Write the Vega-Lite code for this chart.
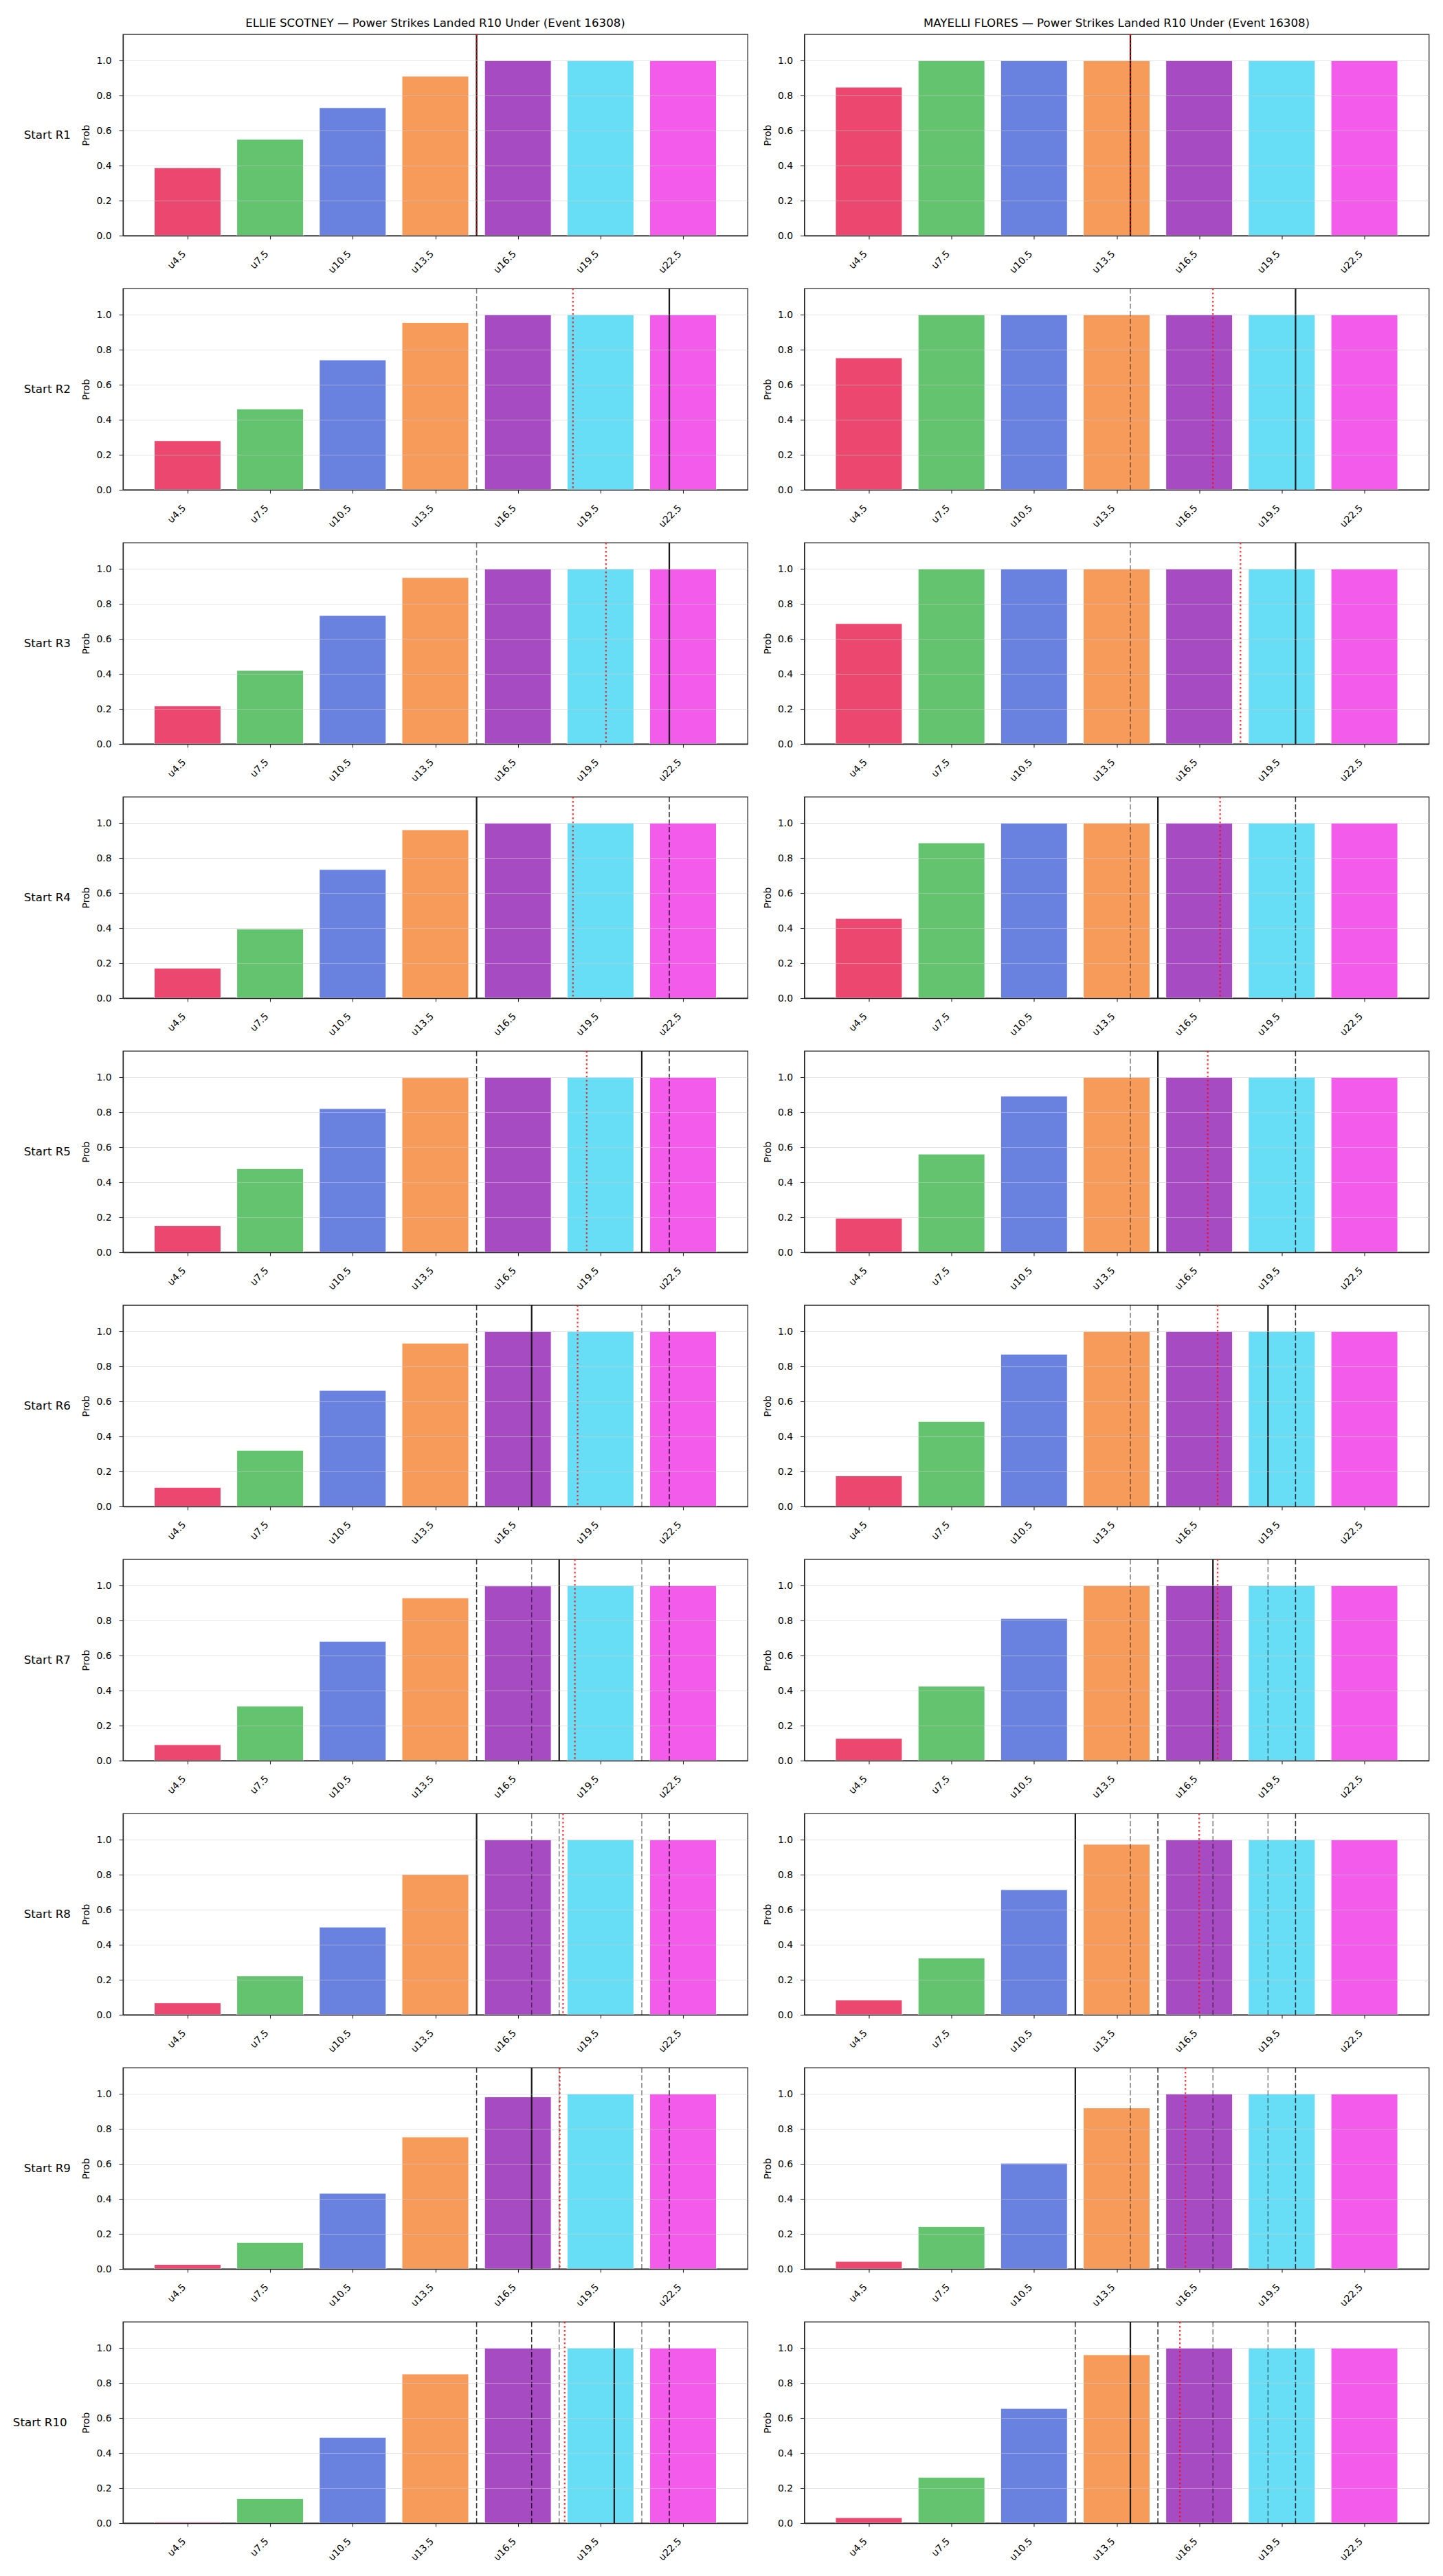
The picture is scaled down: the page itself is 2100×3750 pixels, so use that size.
{
  "$schema": "https://vega.github.io/schema/vega-lite/v6.json",
  "background": "white",
  "padding": {"left": 18, "top": 26, "right": 5, "bottom": 5},
  "data": {"values": [
    {"f":"ELLIE SCOTNEY","s":"Start R1","k":"bar","x":4.5,"p":0.388},
    {"f":"ELLIE SCOTNEY","s":"Start R1","k":"bar","x":7.5,"p":0.550},
    {"f":"ELLIE SCOTNEY","s":"Start R1","k":"bar","x":10.5,"p":0.731},
    {"f":"ELLIE SCOTNEY","s":"Start R1","k":"bar","x":13.5,"p":0.911},
    {"f":"ELLIE SCOTNEY","s":"Start R1","k":"bar","x":16.5,"p":1.0},
    {"f":"ELLIE SCOTNEY","s":"Start R1","k":"bar","x":19.5,"p":1.0},
    {"f":"ELLIE SCOTNEY","s":"Start R1","k":"bar","x":22.5,"p":1.0},
    {"f":"ELLIE SCOTNEY","s":"Start R2","k":"bar","x":4.5,"p":0.280},
    {"f":"ELLIE SCOTNEY","s":"Start R2","k":"bar","x":7.5,"p":0.462},
    {"f":"ELLIE SCOTNEY","s":"Start R2","k":"bar","x":10.5,"p":0.742},
    {"f":"ELLIE SCOTNEY","s":"Start R2","k":"bar","x":13.5,"p":0.956},
    {"f":"ELLIE SCOTNEY","s":"Start R2","k":"bar","x":16.5,"p":1.0},
    {"f":"ELLIE SCOTNEY","s":"Start R2","k":"bar","x":19.5,"p":1.0},
    {"f":"ELLIE SCOTNEY","s":"Start R2","k":"bar","x":22.5,"p":1.0},
    {"f":"ELLIE SCOTNEY","s":"Start R3","k":"bar","x":4.5,"p":0.217},
    {"f":"ELLIE SCOTNEY","s":"Start R3","k":"bar","x":7.5,"p":0.420},
    {"f":"ELLIE SCOTNEY","s":"Start R3","k":"bar","x":10.5,"p":0.734},
    {"f":"ELLIE SCOTNEY","s":"Start R3","k":"bar","x":13.5,"p":0.951},
    {"f":"ELLIE SCOTNEY","s":"Start R3","k":"bar","x":16.5,"p":1.0},
    {"f":"ELLIE SCOTNEY","s":"Start R3","k":"bar","x":19.5,"p":1.0},
    {"f":"ELLIE SCOTNEY","s":"Start R3","k":"bar","x":22.5,"p":1.0},
    {"f":"ELLIE SCOTNEY","s":"Start R4","k":"bar","x":4.5,"p":0.171},
    {"f":"ELLIE SCOTNEY","s":"Start R4","k":"bar","x":7.5,"p":0.395},
    {"f":"ELLIE SCOTNEY","s":"Start R4","k":"bar","x":10.5,"p":0.735},
    {"f":"ELLIE SCOTNEY","s":"Start R4","k":"bar","x":13.5,"p":0.962},
    {"f":"ELLIE SCOTNEY","s":"Start R4","k":"bar","x":16.5,"p":1.0},
    {"f":"ELLIE SCOTNEY","s":"Start R4","k":"bar","x":19.5,"p":1.0},
    {"f":"ELLIE SCOTNEY","s":"Start R4","k":"bar","x":22.5,"p":1.0},
    {"f":"ELLIE SCOTNEY","s":"Start R5","k":"bar","x":4.5,"p":0.152},
    {"f":"ELLIE SCOTNEY","s":"Start R5","k":"bar","x":7.5,"p":0.478},
    {"f":"ELLIE SCOTNEY","s":"Start R5","k":"bar","x":10.5,"p":0.821},
    {"f":"ELLIE SCOTNEY","s":"Start R5","k":"bar","x":13.5,"p":0.998},
    {"f":"ELLIE SCOTNEY","s":"Start R5","k":"bar","x":16.5,"p":1.0},
    {"f":"ELLIE SCOTNEY","s":"Start R5","k":"bar","x":19.5,"p":1.0},
    {"f":"ELLIE SCOTNEY","s":"Start R5","k":"bar","x":22.5,"p":1.0},
    {"f":"ELLIE SCOTNEY","s":"Start R6","k":"bar","x":4.5,"p":0.109},
    {"f":"ELLIE SCOTNEY","s":"Start R6","k":"bar","x":7.5,"p":0.321},
    {"f":"ELLIE SCOTNEY","s":"Start R6","k":"bar","x":10.5,"p":0.663},
    {"f":"ELLIE SCOTNEY","s":"Start R6","k":"bar","x":13.5,"p":0.933},
    {"f":"ELLIE SCOTNEY","s":"Start R6","k":"bar","x":16.5,"p":1.0},
    {"f":"ELLIE SCOTNEY","s":"Start R6","k":"bar","x":19.5,"p":1.0},
    {"f":"ELLIE SCOTNEY","s":"Start R6","k":"bar","x":22.5,"p":1.0},
    {"f":"ELLIE SCOTNEY","s":"Start R7","k":"bar","x":4.5,"p":0.091},
    {"f":"ELLIE SCOTNEY","s":"Start R7","k":"bar","x":7.5,"p":0.311},
    {"f":"ELLIE SCOTNEY","s":"Start R7","k":"bar","x":10.5,"p":0.682},
    {"f":"ELLIE SCOTNEY","s":"Start R7","k":"bar","x":13.5,"p":0.930},
    {"f":"ELLIE SCOTNEY","s":"Start R7","k":"bar","x":16.5,"p":0.998},
    {"f":"ELLIE SCOTNEY","s":"Start R7","k":"bar","x":19.5,"p":1.0},
    {"f":"ELLIE SCOTNEY","s":"Start R7","k":"bar","x":22.5,"p":1.0},
    {"f":"ELLIE SCOTNEY","s":"Start R8","k":"bar","x":4.5,"p":0.068},
    {"f":"ELLIE SCOTNEY","s":"Start R8","k":"bar","x":7.5,"p":0.222},
    {"f":"ELLIE SCOTNEY","s":"Start R8","k":"bar","x":10.5,"p":0.501},
    {"f":"ELLIE SCOTNEY","s":"Start R8","k":"bar","x":13.5,"p":0.803},
    {"f":"ELLIE SCOTNEY","s":"Start R8","k":"bar","x":16.5,"p":1.0},
    {"f":"ELLIE SCOTNEY","s":"Start R8","k":"bar","x":19.5,"p":1.0},
    {"f":"ELLIE SCOTNEY","s":"Start R8","k":"bar","x":22.5,"p":1.0},
    {"f":"ELLIE SCOTNEY","s":"Start R9","k":"bar","x":4.5,"p":0.026},
    {"f":"ELLIE SCOTNEY","s":"Start R9","k":"bar","x":7.5,"p":0.152},
    {"f":"ELLIE SCOTNEY","s":"Start R9","k":"bar","x":10.5,"p":0.432},
    {"f":"ELLIE SCOTNEY","s":"Start R9","k":"bar","x":13.5,"p":0.754},
    {"f":"ELLIE SCOTNEY","s":"Start R9","k":"bar","x":16.5,"p":0.983},
    {"f":"ELLIE SCOTNEY","s":"Start R9","k":"bar","x":19.5,"p":1.0},
    {"f":"ELLIE SCOTNEY","s":"Start R9","k":"bar","x":22.5,"p":1.0},
    {"f":"ELLIE SCOTNEY","s":"Start R10","k":"bar","x":4.5,"p":0.007},
    {"f":"ELLIE SCOTNEY","s":"Start R10","k":"bar","x":7.5,"p":0.140},
    {"f":"ELLIE SCOTNEY","s":"Start R10","k":"bar","x":10.5,"p":0.490},
    {"f":"ELLIE SCOTNEY","s":"Start R10","k":"bar","x":13.5,"p":0.852},
    {"f":"ELLIE SCOTNEY","s":"Start R10","k":"bar","x":16.5,"p":1.0},
    {"f":"ELLIE SCOTNEY","s":"Start R10","k":"bar","x":19.5,"p":1.0},
    {"f":"ELLIE SCOTNEY","s":"Start R10","k":"bar","x":22.5,"p":1.0},
    {"f":"MAYELLI FLORES","s":"Start R1","k":"bar","x":4.5,"p":0.848},
    {"f":"MAYELLI FLORES","s":"Start R1","k":"bar","x":7.5,"p":1.0},
    {"f":"MAYELLI FLORES","s":"Start R1","k":"bar","x":10.5,"p":1.0},
    {"f":"MAYELLI FLORES","s":"Start R1","k":"bar","x":13.5,"p":1.0},
    {"f":"MAYELLI FLORES","s":"Start R1","k":"bar","x":16.5,"p":1.0},
    {"f":"MAYELLI FLORES","s":"Start R1","k":"bar","x":19.5,"p":1.0},
    {"f":"MAYELLI FLORES","s":"Start R1","k":"bar","x":22.5,"p":1.0},
    {"f":"MAYELLI FLORES","s":"Start R2","k":"bar","x":4.5,"p":0.754},
    {"f":"MAYELLI FLORES","s":"Start R2","k":"bar","x":7.5,"p":1.0},
    {"f":"MAYELLI FLORES","s":"Start R2","k":"bar","x":10.5,"p":1.0},
    {"f":"MAYELLI FLORES","s":"Start R2","k":"bar","x":13.5,"p":1.0},
    {"f":"MAYELLI FLORES","s":"Start R2","k":"bar","x":16.5,"p":1.0},
    {"f":"MAYELLI FLORES","s":"Start R2","k":"bar","x":19.5,"p":1.0},
    {"f":"MAYELLI FLORES","s":"Start R2","k":"bar","x":22.5,"p":1.0},
    {"f":"MAYELLI FLORES","s":"Start R3","k":"bar","x":4.5,"p":0.688},
    {"f":"MAYELLI FLORES","s":"Start R3","k":"bar","x":7.5,"p":1.0},
    {"f":"MAYELLI FLORES","s":"Start R3","k":"bar","x":10.5,"p":1.0},
    {"f":"MAYELLI FLORES","s":"Start R3","k":"bar","x":13.5,"p":1.0},
    {"f":"MAYELLI FLORES","s":"Start R3","k":"bar","x":16.5,"p":1.0},
    {"f":"MAYELLI FLORES","s":"Start R3","k":"bar","x":19.5,"p":1.0},
    {"f":"MAYELLI FLORES","s":"Start R3","k":"bar","x":22.5,"p":1.0},
    {"f":"MAYELLI FLORES","s":"Start R4","k":"bar","x":4.5,"p":0.455},
    {"f":"MAYELLI FLORES","s":"Start R4","k":"bar","x":7.5,"p":0.887},
    {"f":"MAYELLI FLORES","s":"Start R4","k":"bar","x":10.5,"p":1.0},
    {"f":"MAYELLI FLORES","s":"Start R4","k":"bar","x":13.5,"p":1.0},
    {"f":"MAYELLI FLORES","s":"Start R4","k":"bar","x":16.5,"p":1.0},
    {"f":"MAYELLI FLORES","s":"Start R4","k":"bar","x":19.5,"p":1.0},
    {"f":"MAYELLI FLORES","s":"Start R4","k":"bar","x":22.5,"p":1.0},
    {"f":"MAYELLI FLORES","s":"Start R5","k":"bar","x":4.5,"p":0.195},
    {"f":"MAYELLI FLORES","s":"Start R5","k":"bar","x":7.5,"p":0.561},
    {"f":"MAYELLI FLORES","s":"Start R5","k":"bar","x":10.5,"p":0.892},
    {"f":"MAYELLI FLORES","s":"Start R5","k":"bar","x":13.5,"p":1.0},
    {"f":"MAYELLI FLORES","s":"Start R5","k":"bar","x":16.5,"p":1.0},
    {"f":"MAYELLI FLORES","s":"Start R5","k":"bar","x":19.5,"p":1.0},
    {"f":"MAYELLI FLORES","s":"Start R5","k":"bar","x":22.5,"p":1.0},
    {"f":"MAYELLI FLORES","s":"Start R6","k":"bar","x":4.5,"p":0.175},
    {"f":"MAYELLI FLORES","s":"Start R6","k":"bar","x":7.5,"p":0.486},
    {"f":"MAYELLI FLORES","s":"Start R6","k":"bar","x":10.5,"p":0.870},
    {"f":"MAYELLI FLORES","s":"Start R6","k":"bar","x":13.5,"p":1.0},
    {"f":"MAYELLI FLORES","s":"Start R6","k":"bar","x":16.5,"p":1.0},
    {"f":"MAYELLI FLORES","s":"Start R6","k":"bar","x":19.5,"p":1.0},
    {"f":"MAYELLI FLORES","s":"Start R6","k":"bar","x":22.5,"p":1.0},
    {"f":"MAYELLI FLORES","s":"Start R7","k":"bar","x":4.5,"p":0.127},
    {"f":"MAYELLI FLORES","s":"Start R7","k":"bar","x":7.5,"p":0.425},
    {"f":"MAYELLI FLORES","s":"Start R7","k":"bar","x":10.5,"p":0.812},
    {"f":"MAYELLI FLORES","s":"Start R7","k":"bar","x":13.5,"p":1.0},
    {"f":"MAYELLI FLORES","s":"Start R7","k":"bar","x":16.5,"p":1.0},
    {"f":"MAYELLI FLORES","s":"Start R7","k":"bar","x":19.5,"p":1.0},
    {"f":"MAYELLI FLORES","s":"Start R7","k":"bar","x":22.5,"p":1.0},
    {"f":"MAYELLI FLORES","s":"Start R8","k":"bar","x":4.5,"p":0.084},
    {"f":"MAYELLI FLORES","s":"Start R8","k":"bar","x":7.5,"p":0.325},
    {"f":"MAYELLI FLORES","s":"Start R8","k":"bar","x":10.5,"p":0.715},
    {"f":"MAYELLI FLORES","s":"Start R8","k":"bar","x":13.5,"p":0.974},
    {"f":"MAYELLI FLORES","s":"Start R8","k":"bar","x":16.5,"p":1.0},
    {"f":"MAYELLI FLORES","s":"Start R8","k":"bar","x":19.5,"p":1.0},
    {"f":"MAYELLI FLORES","s":"Start R8","k":"bar","x":22.5,"p":1.0},
    {"f":"MAYELLI FLORES","s":"Start R9","k":"bar","x":4.5,"p":0.043},
    {"f":"MAYELLI FLORES","s":"Start R9","k":"bar","x":7.5,"p":0.242},
    {"f":"MAYELLI FLORES","s":"Start R9","k":"bar","x":10.5,"p":0.604},
    {"f":"MAYELLI FLORES","s":"Start R9","k":"bar","x":13.5,"p":0.920},
    {"f":"MAYELLI FLORES","s":"Start R9","k":"bar","x":16.5,"p":1.0},
    {"f":"MAYELLI FLORES","s":"Start R9","k":"bar","x":19.5,"p":1.0},
    {"f":"MAYELLI FLORES","s":"Start R9","k":"bar","x":22.5,"p":1.0},
    {"f":"MAYELLI FLORES","s":"Start R10","k":"bar","x":4.5,"p":0.031},
    {"f":"MAYELLI FLORES","s":"Start R10","k":"bar","x":7.5,"p":0.262},
    {"f":"MAYELLI FLORES","s":"Start R10","k":"bar","x":10.5,"p":0.655},
    {"f":"MAYELLI FLORES","s":"Start R10","k":"bar","x":13.5,"p":0.962},
    {"f":"MAYELLI FLORES","s":"Start R10","k":"bar","x":16.5,"p":1.0},
    {"f":"MAYELLI FLORES","s":"Start R10","k":"bar","x":19.5,"p":1.0},
    {"f":"MAYELLI FLORES","s":"Start R10","k":"bar","x":22.5,"p":1.0},

    {"f":"ELLIE SCOTNEY","s":"Start R1","k":"solid","x":15},
    {"f":"ELLIE SCOTNEY","s":"Start R1","k":"red","x":15},
    {"f":"ELLIE SCOTNEY","s":"Start R2","k":"gray","x":15},
    {"f":"ELLIE SCOTNEY","s":"Start R2","k":"red","x":18.5},
    {"f":"ELLIE SCOTNEY","s":"Start R2","k":"solid","x":22},
    {"f":"ELLIE SCOTNEY","s":"Start R3","k":"gray","x":15},
    {"f":"ELLIE SCOTNEY","s":"Start R3","k":"red","x":19.7},
    {"f":"ELLIE SCOTNEY","s":"Start R3","k":"solid","x":22},
    {"f":"ELLIE SCOTNEY","s":"Start R4","k":"solid","x":15},
    {"f":"ELLIE SCOTNEY","s":"Start R4","k":"red","x":18.5},
    {"f":"ELLIE SCOTNEY","s":"Start R4","k":"dash","x":22},
    {"f":"ELLIE SCOTNEY","s":"Start R5","k":"dash","x":15},
    {"f":"ELLIE SCOTNEY","s":"Start R5","k":"red","x":19.0},
    {"f":"ELLIE SCOTNEY","s":"Start R5","k":"solid","x":21},
    {"f":"ELLIE SCOTNEY","s":"Start R5","k":"dash","x":22},
    {"f":"ELLIE SCOTNEY","s":"Start R6","k":"dash","x":15},
    {"f":"ELLIE SCOTNEY","s":"Start R6","k":"solid","x":17},
    {"f":"ELLIE SCOTNEY","s":"Start R6","k":"red","x":18.67},
    {"f":"ELLIE SCOTNEY","s":"Start R6","k":"gray","x":21},
    {"f":"ELLIE SCOTNEY","s":"Start R6","k":"dash","x":22},
    {"f":"ELLIE SCOTNEY","s":"Start R7","k":"dash","x":15},
    {"f":"ELLIE SCOTNEY","s":"Start R7","k":"gray","x":17},
    {"f":"ELLIE SCOTNEY","s":"Start R7","k":"solid","x":18},
    {"f":"ELLIE SCOTNEY","s":"Start R7","k":"red","x":18.57},
    {"f":"ELLIE SCOTNEY","s":"Start R7","k":"gray","x":21},
    {"f":"ELLIE SCOTNEY","s":"Start R7","k":"dash","x":22},
    {"f":"ELLIE SCOTNEY","s":"Start R8","k":"solid","x":15},
    {"f":"ELLIE SCOTNEY","s":"Start R8","k":"gray","x":17},
    {"f":"ELLIE SCOTNEY","s":"Start R8","k":"gray","x":18},
    {"f":"ELLIE SCOTNEY","s":"Start R8","k":"red","x":18.14},
    {"f":"ELLIE SCOTNEY","s":"Start R8","k":"gray","x":21},
    {"f":"ELLIE SCOTNEY","s":"Start R8","k":"dash","x":22},
    {"f":"ELLIE SCOTNEY","s":"Start R9","k":"dash","x":15},
    {"f":"ELLIE SCOTNEY","s":"Start R9","k":"solid","x":17},
    {"f":"ELLIE SCOTNEY","s":"Start R9","k":"gray","x":18},
    {"f":"ELLIE SCOTNEY","s":"Start R9","k":"red","x":18.02},
    {"f":"ELLIE SCOTNEY","s":"Start R9","k":"gray","x":21},
    {"f":"ELLIE SCOTNEY","s":"Start R9","k":"dash","x":22},
    {"f":"ELLIE SCOTNEY","s":"Start R10","k":"dash","x":15},
    {"f":"ELLIE SCOTNEY","s":"Start R10","k":"dash","x":17},
    {"f":"ELLIE SCOTNEY","s":"Start R10","k":"gray","x":18},
    {"f":"ELLIE SCOTNEY","s":"Start R10","k":"red","x":18.2},
    {"f":"ELLIE SCOTNEY","s":"Start R10","k":"solid","x":20},
    {"f":"ELLIE SCOTNEY","s":"Start R10","k":"gray","x":21},
    {"f":"ELLIE SCOTNEY","s":"Start R10","k":"dash","x":22},

    {"f":"MAYELLI FLORES","s":"Start R1","k":"solid","x":14},
    {"f":"MAYELLI FLORES","s":"Start R1","k":"red","x":14},
    {"f":"MAYELLI FLORES","s":"Start R2","k":"gray","x":14},
    {"f":"MAYELLI FLORES","s":"Start R2","k":"red","x":17.0},
    {"f":"MAYELLI FLORES","s":"Start R2","k":"solid","x":20},
    {"f":"MAYELLI FLORES","s":"Start R3","k":"gray","x":14},
    {"f":"MAYELLI FLORES","s":"Start R3","k":"red","x":18.0},
    {"f":"MAYELLI FLORES","s":"Start R3","k":"solid","x":20},
    {"f":"MAYELLI FLORES","s":"Start R4","k":"gray","x":14},
    {"f":"MAYELLI FLORES","s":"Start R4","k":"solid","x":15},
    {"f":"MAYELLI FLORES","s":"Start R4","k":"red","x":17.26},
    {"f":"MAYELLI FLORES","s":"Start R4","k":"dash","x":20},
    {"f":"MAYELLI FLORES","s":"Start R5","k":"gray","x":14},
    {"f":"MAYELLI FLORES","s":"Start R5","k":"solid","x":15},
    {"f":"MAYELLI FLORES","s":"Start R5","k":"red","x":16.81},
    {"f":"MAYELLI FLORES","s":"Start R5","k":"dash","x":20},
    {"f":"MAYELLI FLORES","s":"Start R6","k":"gray","x":14},
    {"f":"MAYELLI FLORES","s":"Start R6","k":"dash","x":15},
    {"f":"MAYELLI FLORES","s":"Start R6","k":"red","x":17.17},
    {"f":"MAYELLI FLORES","s":"Start R6","k":"solid","x":19},
    {"f":"MAYELLI FLORES","s":"Start R6","k":"dash","x":20},
    {"f":"MAYELLI FLORES","s":"Start R7","k":"gray","x":14},
    {"f":"MAYELLI FLORES","s":"Start R7","k":"dash","x":15},
    {"f":"MAYELLI FLORES","s":"Start R7","k":"solid","x":17},
    {"f":"MAYELLI FLORES","s":"Start R7","k":"red","x":17.17},
    {"f":"MAYELLI FLORES","s":"Start R7","k":"gray","x":19},
    {"f":"MAYELLI FLORES","s":"Start R7","k":"dash","x":20},
    {"f":"MAYELLI FLORES","s":"Start R8","k":"solid","x":12},
    {"f":"MAYELLI FLORES","s":"Start R8","k":"gray","x":14},
    {"f":"MAYELLI FLORES","s":"Start R8","k":"dash","x":15},
    {"f":"MAYELLI FLORES","s":"Start R8","k":"red","x":16.5},
    {"f":"MAYELLI FLORES","s":"Start R8","k":"gray","x":17},
    {"f":"MAYELLI FLORES","s":"Start R8","k":"gray","x":19},
    {"f":"MAYELLI FLORES","s":"Start R8","k":"dash","x":20},
    {"f":"MAYELLI FLORES","s":"Start R9","k":"solid","x":12},
    {"f":"MAYELLI FLORES","s":"Start R9","k":"gray","x":14},
    {"f":"MAYELLI FLORES","s":"Start R9","k":"dash","x":15},
    {"f":"MAYELLI FLORES","s":"Start R9","k":"red","x":16.0},
    {"f":"MAYELLI FLORES","s":"Start R9","k":"gray","x":17},
    {"f":"MAYELLI FLORES","s":"Start R9","k":"gray","x":19},
    {"f":"MAYELLI FLORES","s":"Start R9","k":"dash","x":20},
    {"f":"MAYELLI FLORES","s":"Start R10","k":"dash","x":12},
    {"f":"MAYELLI FLORES","s":"Start R10","k":"solid","x":14},
    {"f":"MAYELLI FLORES","s":"Start R10","k":"dash","x":15},
    {"f":"MAYELLI FLORES","s":"Start R10","k":"red","x":15.8},
    {"f":"MAYELLI FLORES","s":"Start R10","k":"gray","x":17},
    {"f":"MAYELLI FLORES","s":"Start R10","k":"gray","x":19},
    {"f":"MAYELLI FLORES","s":"Start R10","k":"dash","x":20}
  ]},
  "facet": {
    "row": {
      "field": "s", "type": "nominal", "title": null,
      "sort": ["Start R1","Start R2","Start R3","Start R4","Start R5","Start R6","Start R7","Start R8","Start R9","Start R10"],
      "header": {"labelAngle": 0, "labelOrient": "left", "labelAlign": "center", "labelFontSize": 16.67, "labelColor": "#000", "labelPadding": -19}
    },
    "column": {
      "field": "f", "type": "nominal", "title": null,
      "sort": ["ELLIE SCOTNEY","MAYELLI FLORES"],
      "header": {"labelExpr": "datum.value + ' — Power Strikes Landed R10 Under (Event 16308)'", "labelFontSize": 16.67, "labelColor": "#000", "labelPadding": 5}
    }
  },
  "spacing": {"row": 17, "column": 20.5},
  "resolve": {"axis": {"x": "independent", "y": "independent"}},
  "spec": {
    "width": 909,
    "height": 293,
    "encoding": {
      "x": {
        "field": "x", "type": "quantitative",
        "scale": {"domain": [2.28, 24.72], "nice": false, "zero": false},
        "axis": {
          "title": null,
          "values": [4.5, 7.5, 10.5, 13.5, 16.5, 19.5, 22.5],
          "labelExpr": "'u' + datum.value",
          "labelAngle": -45, "labelAlign": "right", "labelBaseline": "bottom",
          "tickSize": 5, "labelPadding": 24, "grid": false, "zindex": 1
        }
      }
    },
    "layer": [
      {
        "transform": [{"filter": "datum.k === 'bar'"}],
        "mark": {"type": "bar", "size": 97, "fillOpacity": 0.8, "stroke": "white", "strokeWidth": 1},
        "encoding": {
          "y": {
            "field": "p", "type": "quantitative",
            "scale": {"domain": [0, 1.15], "nice": false},
            "axis": {
              "title": "Prob", "values": [0, 0.2, 0.4, 0.6, 0.8, 1.0], "format": ".1f",
              "grid": true, "gridColor": "#cccccc", "gridOpacity": 0.5, "gridWidth": 1.1,
              "tickSize": 6, "labelPadding": 11, "titlePadding": 7, "zindex": 1
            }
          },
          "color": {
            "field": "x", "type": "ordinal", "legend": null,
            "scale": {"domain": [4.5, 7.5, 10.5, 13.5, 16.5, 19.5, 22.5],
                      "range": ["#e6194b", "#3cb44b", "#4363d8", "#f58231", "#911eb4", "#42d4f4", "#f032e6"]}
          }
        }
      },
      {
        "transform": [{"filter": "datum.k === 'gray'"}],
        "mark": {"type": "rule", "color": "#000000", "opacity": 0.5, "strokeWidth": 1.5, "strokeDash": [7.5, 3.5]},
        "encoding": {}
      },
      {
        "transform": [{"filter": "datum.k === 'dash'"}],
        "mark": {"type": "rule", "color": "#000000", "opacity": 0.8, "strokeWidth": 1.5, "strokeDash": [7.5, 3.5]},
        "encoding": {}
      },
      {
        "transform": [{"filter": "datum.k === 'solid'"}],
        "mark": {"type": "rule", "color": "#1a1a1a", "strokeWidth": 2.2},
        "encoding": {}
      },
      {
        "transform": [{"filter": "datum.k === 'red'"}],
        "mark": {"type": "rule", "color": "#ff0000", "opacity": 0.75, "strokeWidth": 2.3, "strokeDash": [2.5, 3.5]},
        "encoding": {}
      }
    ]
  },
  "config": {
    "font": "DejaVu Sans",
    "view": {"stroke": "#262626", "strokeWidth": 1.3},
    "axis": {
      "labelColor": "#000", "labelFontSize": 13.9, "labelFont": "DejaVu Sans",
      "titleColor": "#000", "titleFontSize": 13.9, "titleFontWeight": "normal", "titleFont": "DejaVu Sans",
      "tickColor": "#262626", "tickWidth": 1.1,
      "domain": true, "domainColor": "#262626", "domainWidth": 1.3,
      "labelFlush": false, "labelOverlap": false
    },
    "header": {"labelFont": "DejaVu Sans"}
  }
}
